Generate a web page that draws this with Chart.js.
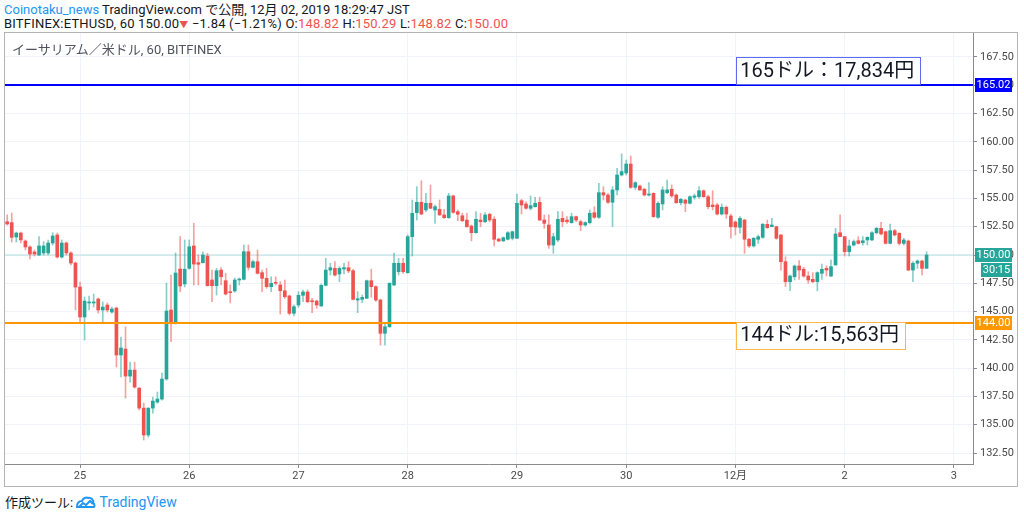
<!DOCTYPE html>
<html><head><meta charset="utf-8">
<script src="https://cdn.jsdelivr.net/npm/chart.js@4.4.0/dist/chart.umd.min.js"></script>
<style>
html,body{margin:0;padding:0;background:#fff;width:1024px;height:514px;overflow:hidden;font-family:Roboto,"Noto Sans CJK JP",sans-serif;}
#hdr{position:absolute;left:4px;top:3px;font-size:13px;line-height:14px;color:#131722;white-space:nowrap;}
#l2{letter-spacing:0.2px}
.blue{color:#2196f3}.red{color:#ef5350}
#frame{position:absolute;left:4px;top:32px;width:1014px;height:455px;border:1px solid #b4b4b4;box-sizing:border-box}
#wrap{position:absolute;left:5px;top:33px;width:1012px;height:453px}
#title{position:absolute;left:12px;top:39px;font-size:13px;color:#50535e;white-space:nowrap;}
#foot{position:absolute;left:5px;top:492px;font-size:13px;color:#131722;white-space:nowrap;display:flex;align-items:center;}
</style></head>
<body>
<div id="hdr"><span class="blue">Coinotaku_news</span> TradingView.com で公開, 12月 02, 2019 18:29:47 JST<br><span id="l2">BITFINEX:ETHUSD, 60 150.00<span class="red" style="font-size:9px">▼</span> −1.84 (−1.21%) O:<span class="red">148.82</span> H:<span class="red">150.29</span> L:<span class="red">148.82</span> C:<span class="red">150.00</span></span></div>
<div id="frame"></div>
<div id="wrap"><canvas id="c" width="1012" height="453"></canvas></div>
<div id="title">イーサリアム／米ドル, 60, BITFINEX</div>
<div id="foot">作成ツール:&nbsp;<svg width="20" height="14" viewBox="0 0 20 14"><path d="M1 12 C1 8 3 6 6 6 C7 3 10 2 12 3 C15 2 18 5 17 8 C19 9 19 12 17 12 Z" fill="none" stroke="#2196f3" stroke-width="2"/><path d="M3 12 L7 8 L10 10 L14 6 L17 9" fill="none" stroke="#2196f3" stroke-width="2"/></svg>&nbsp;<span class="blue" style="font-size:14px">TradingView</span></div>
<script>
// hourly candles starting Nov 24 08:00 JST
const opens  = [152.94,152.86,151.59,151.94,151.24,150.71,150.27,150.00,150.18,150.18,151.06,151.77,149.82,151.06,150.18,149.29,147.17,144.52,145.76,145.76,146.11,145.14,145.58,144.96,145.31,141.16,141.69,139.30,139.83,138.24,136.47,134.09,136.47,137.00,137.27,139.04,145.14,143.99,148.76,147.44,148.82,150.80,149.32,149.32,149.91,147.79,147.29,148.67,147.73,146.76,146.82,147.79,147.85,150.29,148.91,149.41,148.44,147.94,147.20,147.59,147.35,146.84,146.38,144.85,145.58,146.44,146.73,145.96,145.93,145.49,147.32,148.67,148.82,148.32,148.76,148.88,148.61,146.02,146.08,146.17,147.73,147.20,146.02,143.08,143.66,147.35,148.52,149.27,148.44,151.62,153.74,154.66,153.98,154.57,153.98,154.04,153.54,153.30,155.22,153.83,153.47,153.09,152.56,151.97,153.09,152.94,153.60,153.16,151.41,151.24,151.39,151.48,151.48,154.80,154.51,154.13,154.27,154.66,153.09,152.65,150.88,151.33,153.24,153.09,152.86,153.39,152.94,152.65,152.86,153.74,153.33,155.51,155.30,154.66,155.75,157.07,157.25,158.04,155.98,156.10,155.81,155.30,155.45,153.33,154.51,155.51,155.81,155.30,154.62,154.86,154.57,155.10,155.15,155.68,155.15,154.42,154.42,153.62,154.22,153.45,152.92,152.45,153.09,151.39,150.80,151.39,151.56,152.71,152.50,152.50,151.77,149.41,147.64,148.08,149.03,148.74,148.14,147.85,147.64,148.38,148.82,148.14,149.12,151.97,151.62,150.29,150.88,151.26,151.09,151.33,151.33,151.97,152.36,152.06,151.03,152.15,151.92,151.03,151.24,148.67,149.27,149.47,148.82];
const highs  = [153.54,153.71,152.03,152.03,151.33,150.80,150.44,151.62,151.18,151.33,151.97,151.94,151.33,151.15,150.27,149.38,147.61,146.29,146.38,146.55,146.20,145.85,145.76,145.40,145.40,142.75,143.64,140.54,140.54,138.27,136.92,136.50,137.45,137.89,139.57,147.52,148.23,150.18,151.62,151.33,151.33,152.80,150.00,150.29,150.15,148.67,148.82,148.88,148.38,147.35,147.97,147.97,150.88,150.88,149.56,150.44,148.67,148.82,148.08,148.08,147.64,147.79,146.46,145.58,146.76,146.91,146.91,146.17,146.02,147.44,149.71,149.27,149.41,148.97,149.27,149.41,148.74,146.76,146.46,147.79,148.74,147.30,146.10,143.96,147.55,150.18,149.71,149.71,151.77,154.86,156.04,156.57,155.45,156.19,154.42,154.86,154.04,155.45,155.30,153.98,153.69,153.69,152.65,153.83,153.69,153.74,153.69,153.39,151.48,151.59,152.06,152.12,155.39,154.92,154.71,155.22,155.10,155.10,153.54,153.54,151.92,153.83,153.83,153.39,153.69,153.45,153.09,152.94,153.98,154.27,156.34,156.04,155.45,156.04,157.66,158.93,158.40,158.75,156.48,156.19,155.90,156.39,155.50,154.71,156.04,156.63,156.19,155.39,155.01,154.92,155.22,155.39,156.04,155.75,155.30,155.68,154.57,154.51,154.33,153.62,153.00,153.39,153.16,151.48,151.55,151.77,152.80,153.09,153.24,152.55,151.80,149.85,148.23,149.12,149.50,148.91,148.52,148.44,148.52,149.20,149.03,149.56,152.36,153.54,151.65,151.33,151.33,151.62,151.62,151.62,152.06,152.45,152.89,152.12,152.74,152.27,151.97,151.48,151.33,149.41,149.56,149.56,150.29];
const lows   = [152.65,151.15,151.15,151.06,150.44,149.65,149.91,149.95,150.00,150.00,150.88,149.73,149.73,150.00,149.12,145.14,144.08,142.49,145.14,145.40,144.87,144.08,144.96,144.87,140.10,139.22,137.36,138.77,138.24,136.30,133.65,133.90,136.03,136.90,137.18,138.95,142.34,143.90,146.76,147.17,148.74,147.35,147.35,149.27,147.25,145.87,146.46,147.35,146.46,145.78,146.70,147.35,147.79,148.67,148.85,148.32,146.76,147.06,146.76,147.35,144.78,146.17,144.70,144.61,145.38,145.87,145.78,144.90,145.29,145.49,147.26,148.23,148.14,147.64,148.32,148.44,146.02,144.90,145.78,146.17,146.26,145.90,142.04,142.04,143.60,147.30,148.23,148.38,148.38,149.91,153.09,153.55,153.83,154.10,152.80,153.50,153.24,153.24,153.69,153.03,152.94,152.45,151.24,151.92,152.50,152.85,152.94,150.80,151.18,151.21,151.33,151.33,151.45,153.62,154.04,153.98,154.22,153.05,152.36,150.59,150.15,151.18,152.50,152.80,152.80,152.94,152.15,152.56,152.74,153.24,153.24,154.86,154.57,152.50,155.30,156.98,157.07,155.90,155.80,155.70,155.22,155.22,153.33,153.24,153.98,155.39,155.10,154.57,154.42,153.83,154.51,154.92,155.01,155.10,154.07,153.98,153.54,153.54,153.24,151.48,151.77,151.92,150.15,150.68,150.70,151.03,151.48,152.36,152.50,151.39,148.67,147.20,146.84,147.79,147.85,148.03,147.50,147.55,146.84,147.85,148.14,148.08,149.10,151.60,149.91,149.91,150.80,150.97,150.88,150.88,151.27,151.86,151.77,150.97,150.97,151.68,150.88,150.88,148.60,147.64,148.82,148.23,148.82];
const closes = [152.74,151.56,151.94,151.33,150.71,150.09,150.09,150.80,150.80,151.06,151.68,149.82,151.06,150.18,149.29,147.17,144.52,145.93,145.85,145.85,145.14,145.40,145.14,145.23,141.16,141.78,139.30,139.83,138.33,136.47,134.09,136.47,137.09,137.27,139.04,145.05,143.99,148.41,147.26,148.74,150.73,149.20,149.18,150.00,147.29,147.29,148.61,148.08,146.55,146.67,147.79,147.85,150.29,148.91,149.41,148.38,147.94,147.20,147.50,147.50,146.84,146.31,144.85,145.43,146.44,146.73,145.87,145.87,145.58,147.32,148.67,148.88,148.23,148.82,148.88,148.59,146.08,146.14,146.26,147.73,147.20,146.02,143.08,143.66,147.50,149.27,149.27,148.52,151.62,153.69,154.66,153.62,154.57,154.13,154.27,153.54,153.30,155.22,153.77,153.60,153.03,152.50,151.97,153.16,152.94,153.54,153.09,151.39,151.24,151.53,151.97,152.06,154.57,154.42,154.13,154.36,154.57,153.09,152.80,150.88,151.62,153.16,152.94,152.94,153.39,153.09,152.65,152.86,153.69,153.33,155.51,155.30,154.66,155.75,157.07,157.37,158.04,155.98,156.39,155.75,155.30,155.39,153.39,154.57,155.75,155.75,155.22,154.62,154.92,154.57,155.15,155.22,155.68,155.15,154.27,154.27,153.62,154.22,153.62,152.50,152.47,153.24,151.39,150.80,151.48,151.62,152.71,152.41,152.65,151.48,149.41,147.64,148.14,149.03,148.67,148.14,147.79,147.64,148.44,148.74,148.67,148.97,151.86,151.62,150.29,150.80,151.18,151.03,151.26,151.56,151.97,152.36,151.86,151.03,152.15,151.77,151.03,151.33,148.67,149.27,149.47,148.82,150.00];
const dayTickIndex = [16,40,64,88,112,136,160,184,208];
const dayTickLabels = ['25','26','27','28','29','30','12月','2','3'];
const yTicks = [132.5,135,137.5,140,142.5,145,147.5,150,152.5,155,157.5,160,162.5,165,167.5];
const resistance = 165.02, support = 144.00, lastPrice = 150.00;
const resistanceNote = '165ドル：17,834円', supportNote = '144ドル:15,563円';
const countdown = '30:15';

const UP='#26a69a', DOWN='#ef5350', UPW='rgba(38,166,154,0.55)', DOWNW='rgba(239,83,80,0.55)';
const bodies = opens.map((o,i)=>({x:i,y:[o,closes[i]]}));
const wicks = opens.map((o,i)=>({x:i,y:[lows[i],highs[i]]}));
const isUp = opens.map((o,i)=>closes[i]>=o);
const hline = v => [{x:-5,y:v},{x:220,y:v}];

const overlay = {
  id:'overlay',
  afterDraw(chart){
    const ctx=chart.ctx, ys=chart.scales.y, xs=chart.scales.x, a=chart.chartArea;
    ctx.save();
    ctx.font='11px Roboto, sans-serif';
    ctx.textBaseline='middle';
    function tag(v,text,bg,dx,w,dyOff){
      const py=ys.getPixelForValue(v)+(dyOff||0);
      ctx.fillStyle=bg;
      ctx.fillRect(a.right+dx,Math.round(py)-7,w,14);
      ctx.fillStyle='#fff';
      ctx.textAlign='center';
      ctx.fillText(text,a.right+dx+w/2,py+0.5);
    }
    tag(resistance,resistance.toFixed(2),'#0000ff',2,37);
    tag(support,support.toFixed(2),'#ff9800',2,37);
    tag(lastPrice,lastPrice.toFixed(2),UP,2,37);
    tag(lastPrice,countdown,UP,8,31,15);
    ctx.font='20px Roboto, "Noto Sans CJK JP", sans-serif';
    ctx.textAlign='left';
    function note(v,text,color,above){
      const px=xs.getPixelForValue(160.2);
      const py=ys.getPixelForValue(v);
      const w=ctx.measureText(text).width+10;
      const h=27;
      const top= above ? py-h-1 : py-1;
      ctx.fillStyle='#fff';
      ctx.fillRect(px,top,w,h);
      ctx.strokeStyle=color; ctx.lineWidth=1;
      ctx.strokeRect(Math.round(px)+0.5,Math.round(top)+0.5,Math.round(w),h);
      ctx.fillStyle='#131722';
      ctx.fillText(text,px+4,top+h/2+1);
    }
    note(resistance,resistanceNote,'#5c6bf0',true);
    note(support,supportNote,'#ffb74d',false);
    ctx.restore();
  }
};

new Chart(document.getElementById('c'),{
  type:'bar',
  data:{datasets:[
    {type:'line',data:hline(resistance),borderColor:'#0000ff',borderWidth:2,pointRadius:0,order:0},
    {type:'line',data:hline(support),borderColor:'#ff9800',borderWidth:2,pointRadius:0,order:0},
    {data:bodies,backgroundColor:isUp.map(u=>u?UP:DOWN),barThickness:3,minBarLength:1,grouped:false,order:1},
    {data:wicks,backgroundColor:isUp.map(u=>u?UPW:DOWNW),barThickness:1,grouped:false,order:2},
    {type:'line',data:hline(lastPrice),borderColor:'#b2dfdb',borderWidth:1,pointRadius:0,order:3}
  ]},
  options:{
    responsive:false,animation:false,
    layout:{padding:0},
    plugins:{legend:{display:false},tooltip:{enabled:false}},
    scales:{
      x:{type:'linear',min:-0.48,max:212.2,offset:false,
        grid:{color:'#f0f3fa',tickColor:'#8a8a8a',tickLength:4,offset:false},
        border:{color:'#8a8a8a'},
        afterBuildTicks(s){s.ticks=dayTickIndex.map(v=>({value:v}));},
        afterFit(s){s.height=22;s.paddingLeft=0;s.paddingRight=0;},
        ticks:{autoSkip:false,maxRotation:0,padding:2,color:'#4a4a4a',font:{size:11,family:'Roboto, "Noto Sans CJK JP", sans-serif'},
          callback:(v)=>{const k=dayTickIndex.indexOf(v);return k>=0?dayTickLabels[k]:'';}}
      },
      y:{type:'linear',position:'right',min:131.53,max:169.62,
        grid:{color:'#f0f3fa',tickColor:'#8a8a8a',tickLength:4},
        border:{color:'#8a8a8a'},
        afterBuildTicks(s){s.ticks=yTicks.map(v=>({value:v}));},
        afterFit(s){s.width=44;s.paddingTop=0;s.paddingBottom=0;},
        ticks:{padding:3,color:'#4a4a4a',font:{size:11,family:'Roboto, sans-serif'},callback:v=>Number(v).toFixed(2)}
      }
    }
  },
  plugins:[overlay]
});
</script>
</body></html>
